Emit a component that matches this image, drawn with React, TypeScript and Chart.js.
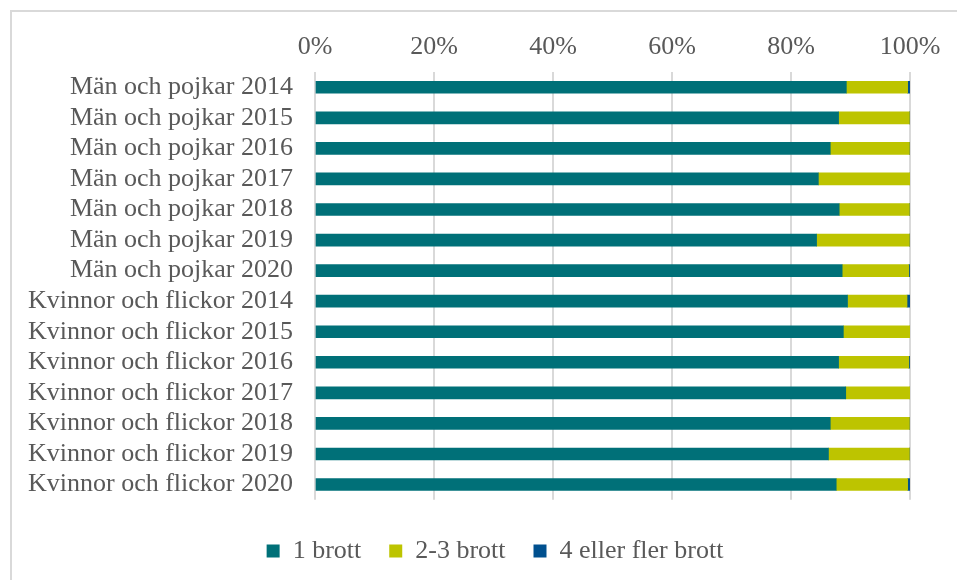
import React, { useEffect, useRef } from "react";
import { Chart, registerables } from "chart.js";

Chart.register(...registerables);

const categories = [
  "Män och pojkar 2014",
  "Män och pojkar 2015",
  "Män och pojkar 2016",
  "Män och pojkar 2017",
  "Män och pojkar 2018",
  "Män och pojkar 2019",
  "Män och pojkar 2020",
  "Kvinnor och flickor 2014",
  "Kvinnor och flickor 2015",
  "Kvinnor och flickor 2016",
  "Kvinnor och flickor 2017",
  "Kvinnor och flickor 2018",
  "Kvinnor och flickor 2019",
  "Kvinnor och flickor 2020",
];

const brott1 = [89.3, 88.0, 86.6, 84.6, 88.1, 84.3, 88.6, 89.5, 88.8, 88.0, 89.2, 86.6, 86.3, 87.6];
const brott2_3 = [10.3, 11.9, 13.3, 15.4, 11.8, 15.6, 11.2, 10.0, 11.2, 11.8, 10.8, 13.3, 13.6, 12.0];
const brott4plus = [0.4, 0.1, 0.1, 0.0, 0.1, 0.1, 0.2, 0.5, 0.0, 0.2, 0.0, 0.1, 0.1, 0.4];

const seriesNames = ["1 brott", "2-3 brott", "4 eller fler brott"];
const xTicks = [0, 20, 40, 60, 80, 100];

const FONT = "'Liberation Serif', 'Times New Roman', serif";
const TEXT = "#595959";

const legendShift = {
  id: "legendShift",
  afterLayout(chart: any) {
    const l = chart.legend;
    if (l) {
      l.left += 40;
      l.right += 40;
    }
  },
};

export default function App() {
  const ref = useRef<HTMLCanvasElement | null>(null);

  useEffect(() => {
    document.body.style.margin = "0";
    const ctx = ref.current!;
    const chart = new Chart(ctx, {
      type: "bar",
      data: {
        labels: categories,
        datasets: [
          { label: seriesNames[0], data: brott1, backgroundColor: "#007078", barThickness: 12 },
          { label: seriesNames[1], data: brott2_3, backgroundColor: "#BDC400", barThickness: 12 },
          { label: seriesNames[2], data: brott4plus, backgroundColor: "#00508F", barThickness: 12 },
        ],
      },
      plugins: [legendShift],
      options: {
        indexAxis: "y",
        animation: false,
        responsive: false,
        maintainAspectRatio: false,
        layout: { padding: { left: 0, right: 47, top: 0, bottom: 6 } },
        scales: {
          x: {
            position: "top",
            stacked: true,
            min: 0,
            max: 100,
            afterBuildTicks: (scale: any) => {
              scale.ticks = xTicks.map((v) => ({ value: v }));
            },
            afterFit: (scale: any) => {
              scale.height = 72;
            },
            ticks: {
              callback: (v: any) => v + "%",
              color: TEXT,
              font: { family: FONT, size: 26 },
              padding: 9,
              maxRotation: 0,
            },
            grid: { color: "#D9D9D9", lineWidth: 2, drawTicks: false },
            border: { display: false },
          },
          y: {
            stacked: true,
            afterFit: (scale: any) => {
              scale.width = 315;
            },
            ticks: {
              color: TEXT,
              font: { family: FONT, size: 26 },
              padding: 22,
              autoSkip: false,
            },
            grid: { display: false, drawTicks: false },
            border: { display: false },
          },
        },
        plugins: {
          legend: {
            position: "bottom",
            title: { display: true, text: " ", font: { size: 1 }, padding: { top: 9, bottom: 0 } },
            labels: {
              boxWidth: 13,
              boxHeight: 13,
              color: TEXT,
              font: { family: FONT, size: 26 },
              padding: 28,
            },
          },
          tooltip: { enabled: false },
        },
      },
    });
    return () => chart.destroy();
  }, []);

  return (
    <div style={{ position: "relative", width: 957, height: 580, background: "#fff", overflow: "hidden" }}>
      <div
        style={{
          position: "absolute",
          left: 10,
          top: 10,
          width: 960,
          height: 580,
          borderLeft: "2px solid #D9D9D9",
          borderTop: "2px solid #D9D9D9",
        }}
      />
      <canvas ref={ref} width={957} height={580} style={{ position: "absolute", left: 0, top: 0 }} />
    </div>
  );
}
